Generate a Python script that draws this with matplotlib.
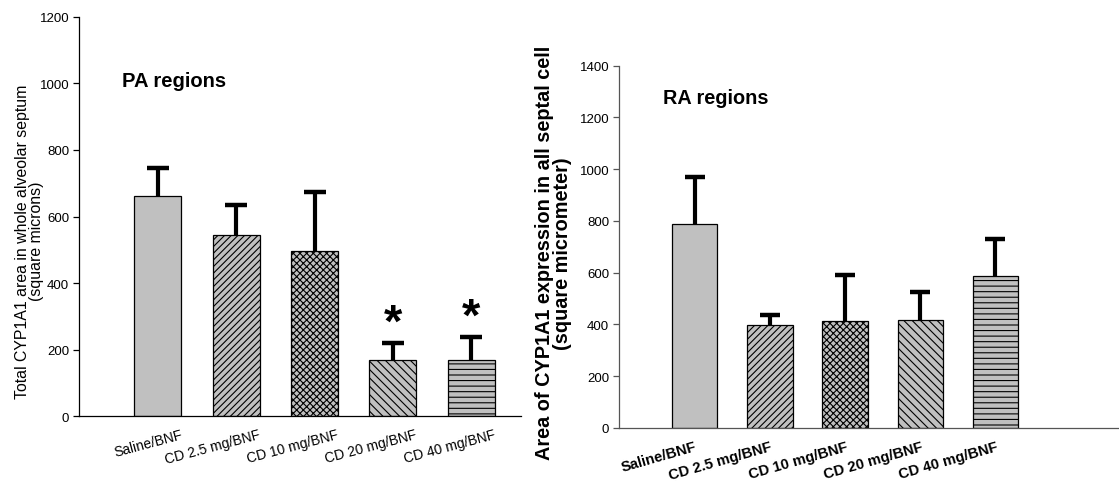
import matplotlib
matplotlib.use("Agg")
import matplotlib.pyplot as plt
import matplotlib.transforms as mtransforms
import numpy as np

plt.rcParams['font.family'] = ['Liberation Sans', 'DejaVu Sans']
plt.rcParams['hatch.linewidth'] = 0.8

groups = ["Saline/BNF", "CD 2.5 mg/BNF", "CD 10 mg/BNF", "CD 20 mg/BNF", "CD 40 mg/BNF"]
hatches = ["", "/////", "xxxxx", "\\\\\\\\", "---"]

# PA regions: means and upper SEM
pa_mean = [663, 545, 497, 170, 168]
pa_err = [82, 90, 178, 49, 69]
pa_star = [False, False, False, True, True]

# RA regions
ra_mean = [790, 397, 412, 417, 589]
ra_err = [180, 38, 178, 108, 141]

x = np.arange(len(groups))

fig = plt.figure(figsize=(11.19, 4.89), dpi=100)
H = 489  # figure height in pixels


def draw_bars(ax, mean, err, width, capsize, spine_color):
    ax.bar(x, mean, width=width, color="#c0c0c0", edgecolor="black",
           linewidth=0.9, hatch=hatches, zorder=2)
    eb = ax.errorbar(x, mean, yerr=[np.zeros(len(mean)), err], fmt="none",
                     ecolor="black", elinewidth=3.0, capsize=capsize,
                     capthick=3.2, zorder=3)
    # only the upper cap is shown
    eb[1][0].set_visible(False)
    for s in ["top", "right"]:
        ax.spines[s].set_visible(False)
    for s in ["left", "bottom"]:
        ax.spines[s].set_color(spine_color)
        ax.spines[s].set_linewidth(0.9)
    ax.tick_params(axis="x", length=0)
    ax.tick_params(axis="y", length=4, width=0.9, color=spine_color,
                   labelsize=9.5, pad=3)


def shift_labels(ax, dx, dy):
    off = mtransforms.ScaledTranslation(dx / 100, dy / 100, fig.dpi_scale_trans)
    for lab in ax.get_xticklabels():
        lab.set_transform(lab.get_transform() + off)


# left panel
ax1 = fig.add_axes([0.0706, 0.1466, 0.3947, 0.8172])
draw_bars(ax1, pa_mean, pa_err, 0.6, 8, "black")
ax1.set_xlim(-1.008, 4.63)
ax1.set_ylim(0, 1200)
ax1.set_yticks(range(0, 1201, 200))
ax1.set_xticks(x)
ax1.set_xticklabels(groups, rotation=15, ha="right", rotation_mode="anchor",
                    fontsize=10, family=['Liberation Sans Narrow', 'Liberation Sans'])
ax1.tick_params(axis="x", pad=8)
shift_labels(ax1, 22, 0)
ax1.set_ylabel("Total CYP1A1 area in whole alveolar septum\n(square microns)",
               fontsize=11.4, linespacing=0.9)
ax1.yaxis.set_label_coords(-0.08, 0.44)
ax1.text(122, H - 87, "PA regions", transform=None, fontsize=14.5,
         fontweight="bold")
for xi, m, e, s in zip(x, pa_mean, pa_err, pa_star):
    if s:
        ax1.text(xi, m + e + 60, "*", ha="center", va="center",
                 fontsize=34, fontweight="bold")

# right panel
ax2 = fig.add_axes([0.5532, 0.1227, 0.446, 0.741])
draw_bars(ax2, ra_mean, ra_err, 0.605, 7, "#555555")
ax2.set_xlim(-1.005, 5.63)
ax2.set_ylim(0, 1400)
ax2.set_yticks(range(0, 1401, 200))
ax2.set_xticks(x)
ax2.set_xticklabels(groups, rotation=16, ha="right", rotation_mode="anchor",
                    fontsize=10.6, fontweight="bold")
ax2.tick_params(axis="x", pad=8)
ax2.set_ylabel("Area of CYP1A1 expression in all septal cell\n(square micrometer)",
               fontsize=14.3, fontweight="bold", linespacing=0.95)
ax2.yaxis.set_label_coords(-0.094, 0.485)
ax2.text(663, H - 104, "RA regions", transform=None, fontsize=14.3,
         fontweight="bold")

fig.savefig("out.png", dpi=100)
